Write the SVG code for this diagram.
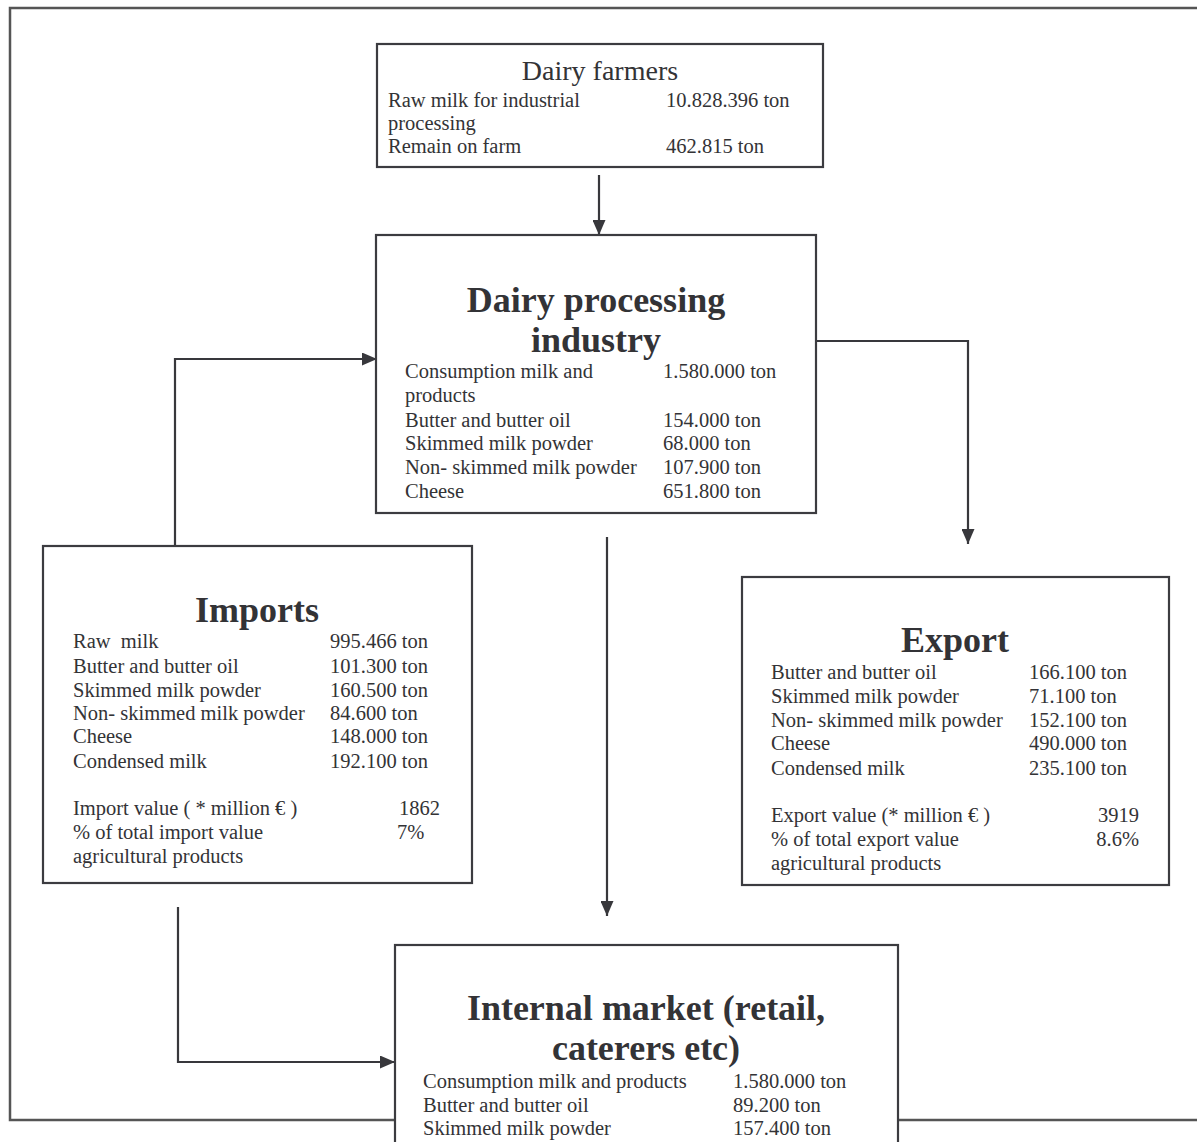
<svg xmlns="http://www.w3.org/2000/svg" width="1197" height="1142" viewBox="0 0 1197 1142">
<defs>
<marker id="ah" markerWidth="15" markerHeight="13" refX="15" refY="6.5" orient="auto" markerUnits="userSpaceOnUse">
<path d="M0,0 L15,6.5 L0,13 Z" fill="#38383c"/>
</marker>
</defs>
<style>
.box{fill:#fff;stroke:#3c3c40;stroke-width:2.2}
.frame{fill:none;stroke:#555;stroke-width:2.5}
.t{font-family:"Liberation Serif","Times New Roman",serif;fill:#333336}
.b{font-size:20.5px}
.h{font-size:36px;font-weight:bold;text-anchor:middle}
.h2{font-size:28px;text-anchor:middle}
.r{text-anchor:end}
.c{fill:none;stroke:#38383c;stroke-width:2.2}
</style>
<rect width="1197" height="1142" fill="#fff"/>
<rect class="frame" x="10" y="8" width="1200" height="1112"/>
<g id="connectors">
<path class="c" d="M599,175 V235" marker-end="url(#ah)"/>
<path class="c" d="M175,546 V359 H377" marker-end="url(#ah)"/>
<path class="c" d="M816,341 H968 V544" marker-end="url(#ah)"/>
<path class="c" d="M607,537 V916" marker-end="url(#ah)"/>
<path class="c" d="M178,907 V1062 H395" marker-end="url(#ah)"/>
</g>
<g id="dairy-farmers">
<rect class="box" x="377" y="44" width="446" height="123"/>
<text class="t h2" x="600" y="80">Dairy farmers</text>
<text class="t b" x="388" y="107">Raw milk for industrial</text>
<text class="t b" x="666" y="107">10.828.396 ton</text>
<text class="t b" x="388" y="130">processing</text>
<text class="t b" x="388" y="153">Remain on farm</text>
<text class="t b" x="666" y="153">462.815 ton</text>
</g>
<g id="dairy-processing">
<rect class="box" x="376" y="235" width="440" height="278"/>
<text class="t h" x="596" y="312">Dairy processing</text>
<text class="t h" x="596" y="352">industry</text>
<text class="t b" x="405" y="378">Consumption milk and</text>
<text class="t b" x="663" y="378">1.580.000 ton</text>
<text class="t b" x="405" y="402">products</text>
<text class="t b" x="405" y="427">Butter and butter oil</text>
<text class="t b" x="663" y="427">154.000 ton</text>
<text class="t b" x="405" y="450">Skimmed milk powder</text>
<text class="t b" x="663" y="450">68.000 ton</text>
<text class="t b" x="405" y="474">Non- skimmed milk powder</text>
<text class="t b" x="663" y="474">107.900 ton</text>
<text class="t b" x="405" y="498">Cheese</text>
<text class="t b" x="663" y="498">651.800 ton</text>
</g>
<g id="imports">
<rect class="box" x="43" y="546" width="429" height="337"/>
<text class="t h" x="257" y="622">Imports</text>
<text class="t b" x="73" y="648" xml:space="preserve">Raw  milk</text>
<text class="t b" x="330" y="648">995.466 ton</text>
<text class="t b" x="73" y="673">Butter and butter oil</text>
<text class="t b" x="330" y="673">101.300 ton</text>
<text class="t b" x="73" y="697">Skimmed milk powder</text>
<text class="t b" x="330" y="697">160.500 ton</text>
<text class="t b" x="73" y="720">Non- skimmed milk powder</text>
<text class="t b" x="330" y="720">84.600 ton</text>
<text class="t b" x="73" y="743">Cheese</text>
<text class="t b" x="330" y="743">148.000 ton</text>
<text class="t b" x="73" y="768">Condensed milk</text>
<text class="t b" x="330" y="768">192.100 ton</text>
<text class="t b" x="73" y="815">Import value ( * million € )</text>
<text class="t b r" x="440" y="815">1862</text>
<text class="t b" x="73" y="839">% of total import value</text>
<text class="t b" x="397" y="839">7%</text>
<text class="t b" x="73" y="863">agricultural products</text>
</g>
<g id="export">
<rect class="box" x="742" y="577" width="427" height="308"/>
<text class="t h" x="955" y="652">Export</text>
<text class="t b" x="771" y="679">Butter and butter oil</text>
<text class="t b" x="1029" y="679">166.100 ton</text>
<text class="t b" x="771" y="703">Skimmed milk powder</text>
<text class="t b" x="1029" y="703">71.100 ton</text>
<text class="t b" x="771" y="727">Non- skimmed milk powder</text>
<text class="t b" x="1029" y="727">152.100 ton</text>
<text class="t b" x="771" y="750">Cheese</text>
<text class="t b" x="1029" y="750">490.000 ton</text>
<text class="t b" x="771" y="775">Condensed milk</text>
<text class="t b" x="1029" y="775">235.100 ton</text>
<text class="t b" x="771" y="822">Export value (* million € )</text>
<text class="t b r" x="1139" y="822">3919</text>
<text class="t b" x="771" y="846">% of total export value</text>
<text class="t b r" x="1139" y="846">8.6%</text>
<text class="t b" x="771" y="870">agricultural products</text>
</g>
<g id="internal-market">
<rect class="box" x="395" y="945" width="503" height="220"/>
<text class="t h" x="646" y="1020">Internal market (retail,</text>
<text class="t h" x="646" y="1060">caterers etc)</text>
<text class="t b" x="423" y="1088">Consumption milk and products</text>
<text class="t b" x="733" y="1088">1.580.000 ton</text>
<text class="t b" x="423" y="1112">Butter and butter oil</text>
<text class="t b" x="733" y="1112">89.200 ton</text>
<text class="t b" x="423" y="1135">Skimmed milk powder</text>
<text class="t b" x="733" y="1135">157.400 ton</text>
</g>
</svg>
